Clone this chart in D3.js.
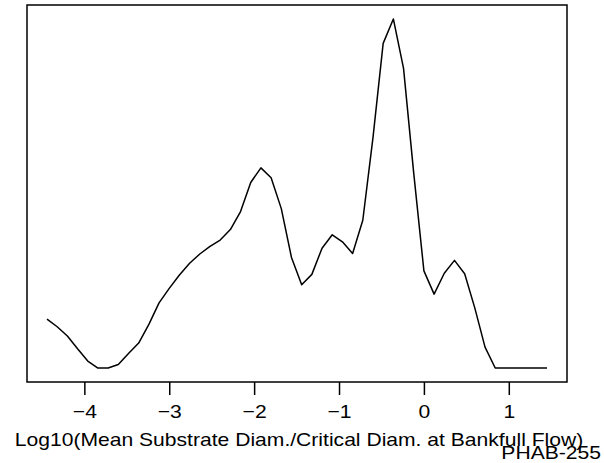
<!DOCTYPE html>
<html>
  <head>
    <meta charset="UTF-8" />
    <script src="https://cdnjs.cloudflare.com/ajax/libs/d3/7.8.5/d3.min.js"></script>
    <style>
      body { margin: 0; background: #fff; }
      text { font-family: "Liberation Sans", Arial, sans-serif; fill: #000; }
    </style>
  </head>
  <body>
    <svg id="chart" width="604" height="463"></svg>
    <script>
      // log10 ratio (x) and density estimate (y)
      const xVals = [
        -4.44, -4.32, -4.2, -4.08, -3.96, -3.84, -3.72, -3.6, -3.48, -3.36,
        -3.24, -3.12, -3.0, -2.88, -2.76, -2.64, -2.52, -2.4, -2.28, -2.16,
        -2.04, -1.92, -1.8, -1.68, -1.56, -1.44, -1.32, -1.2, -1.08, -0.96,
        -0.84, -0.72, -0.6, -0.48, -0.36, -0.24, -0.12, 0.0, 0.12, 0.24,
        0.36, 0.48, 0.6, 0.72, 0.84, 0.96, 1.08, 1.2, 1.32, 1.45
      ];
      const density = [
        0.084, 0.071, 0.055, 0.033, 0.012, 0.0, 0.0, 0.006, 0.025, 0.043,
        0.075, 0.112, 0.137, 0.16, 0.18, 0.196, 0.209, 0.22, 0.238, 0.269,
        0.319, 0.344, 0.327, 0.274, 0.19, 0.143, 0.161, 0.206, 0.229, 0.217,
        0.197, 0.254, 0.396, 0.558, 0.6, 0.515, 0.335, 0.167, 0.127, 0.163,
        0.185, 0.162, 0.103, 0.036, 0.0, 0.0, 0.0, 0.0, 0.0, 0.0
      ];
      const xTicks = [-4, -3, -2, -1, 0, 1];
      const xLabel = "Log10(Mean Substrate Diam./Critical Diam. at Bankfull Flow)";
      const tag = "PHAB-255";

      const svg = d3.select("#chart");
      const box = { left: 27, right: 567, top: 5, bottom: 382 };
      const fontSize = "18.5px";
      const stretch = 1.14; // reference glyphs run wider than Liberation Sans

      // widen a text selection horizontally, keeping its anchor
      function widen(sel) {
        sel.each(function() {
          const w = this.getComputedTextLength();
          d3.select(this)
            .attr("textLength", w * stretch)
            .attr("lengthAdjust", "spacingAndGlyphs");
        });
      }

      // R style 4% padding on both axes
      const xr = d3.extent(xVals);
      const xPad = (xr[1] - xr[0]) * 0.04;
      const x = d3.scaleLinear()
        .domain([xr[0] - xPad, xr[1] + xPad])
        .range([box.left, box.right]);

      const yMax = d3.max(density);
      const y = d3.scaleLinear()
        .domain([-yMax * 0.04, yMax * 1.04])
        .range([box.bottom, box.top]);

      const pts = xVals.map((v, i) => [v, density[i]]);

      svg.append("path")
        .datum(pts)
        .attr("fill", "none")
        .attr("stroke", "#000")
        .attr("stroke-width", 1.5)
        .attr("stroke-linejoin", "round")
        .attr("d", d3.line().x(d => x(d[0])).y(d => y(d[1])));

      svg.append("rect")
        .attr("x", box.left)
        .attr("y", box.top)
        .attr("width", box.right - box.left)
        .attr("height", box.bottom - box.top)
        .attr("fill", "none")
        .attr("stroke", "#000")
        .attr("stroke-width", 1.5);

      const axis = d3.axisBottom(x)
        .tickValues(xTicks)
        .tickSize(13)
        .tickPadding(10)
        .tickFormat(d => d3.format("")(d).replace("-", "\u2212"));

      const g = svg.append("g")
        .attr("transform", `translate(0,${box.bottom})`)
        .call(axis);
      g.select(".domain").remove();
      g.selectAll(".tick line").attr("stroke", "#000").attr("stroke-width", 1.5);
      g.selectAll(".tick text")
        .attr("fill", "#000")
        .style("font-size", fontSize)
        .style("font-family", "Liberation Sans, Arial, sans-serif")
        .call(widen);

      svg.append("text")
        .attr("x", 299)
        .attr("y", 446)
        .attr("text-anchor", "middle")
        .style("font-size", fontSize)
        .text(xLabel)
        .call(widen);

      svg.append("text")
        .attr("x", 601)
        .attr("y", 459)
        .attr("text-anchor", "end")
        .style("font-size", fontSize)
        .text(tag)
        .call(widen);
    </script>
  </body>
</html>
